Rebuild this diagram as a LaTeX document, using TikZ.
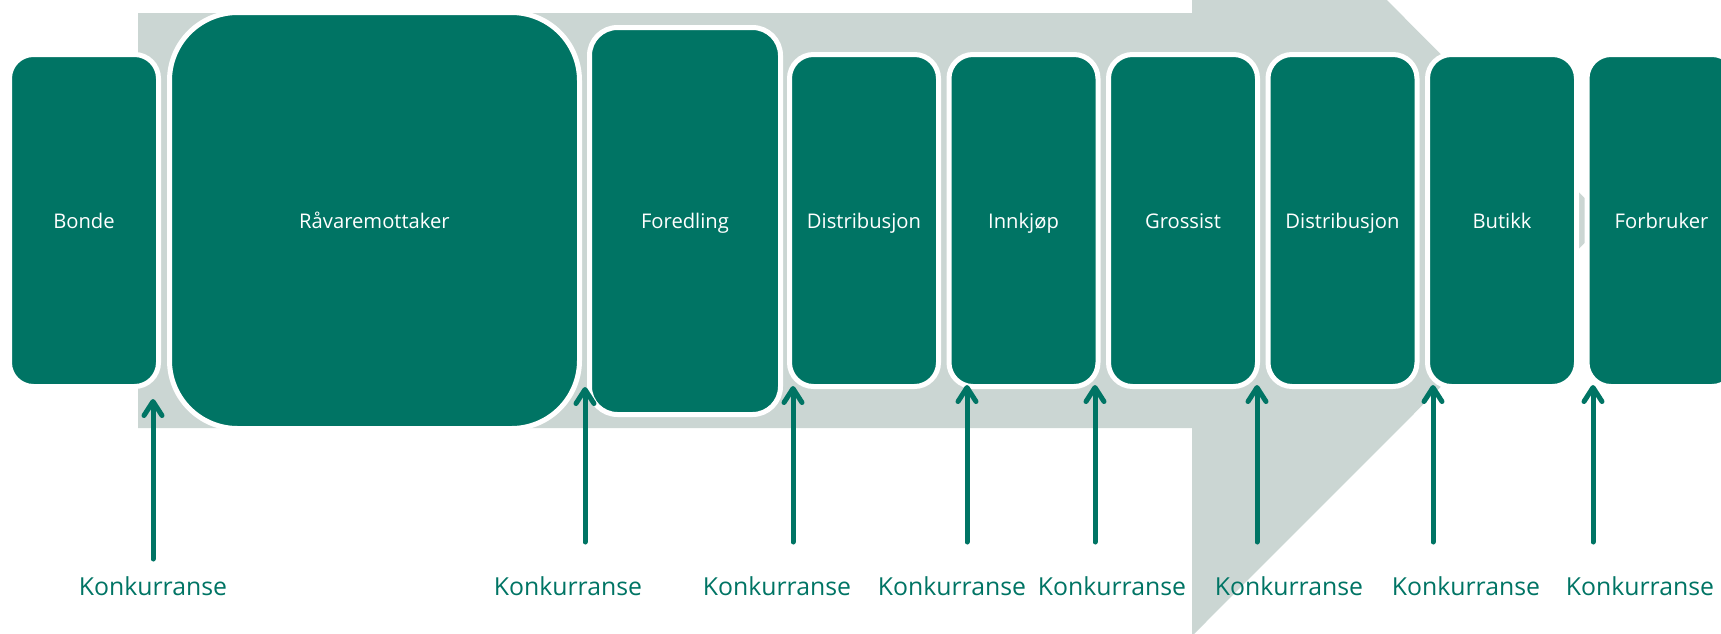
\documentclass[tikz,border=0pt]{standalone}
\usepackage{fontspec}
\setmainfont{Open Sans}
\usepackage{tikz}
\usetikzlibrary{
  positioning,
  arrows.meta
}
\definecolor{kjedegronn}{RGB}{0,116,100}
\definecolor{kjedegraa}{RGB}{203,214,211}

\tikzset{
  ledd/.style={draw=white, line width=2.5pt, fill=kjedegronn, text=white,
    rounded corners=12pt, minimum width=74.5pt, minimum height=166pt,
    inner sep=0pt, text height=9pt, text depth=1.5pt,
    font=\fontsize{10.1pt}{12pt}\selectfont},
  konk/.style={draw=kjedegronn, line width=2.5pt, line cap=round},
  konktekst/.style={text=kjedegronn, anchor=base, inner sep=0pt,
    font=\fontsize{12.4pt}{14pt}\selectfont}
}

\begin{document}
\begin{tikzpicture}[x=0.5pt,y=-0.5pt,node distance=2.75pt,
    >={Straight Barb[length=7pt,width=9pt,round]}]
            \useasboundingbox (0,0) rectangle (1721,633);

            % the big arrow behind
            \fill[kjedegraa] (138,13) -- (1192,13) -- (1192,-195) -- (1607,220.5)
                -- (1192,636) -- (1192,428) -- (138,428) -- cycle;

            \node[ledd] (bonde) at (84,220.5) {Bonde};
            \node[ledd, minimum width=205pt, minimum height=208pt, rounded corners=34pt]
                (raavare) at (374.5,220.5) {Råvaremottaker};
            \node[ledd, minimum width=95.5pt, minimum height=193.5pt, rounded corners=14pt]
                (foredling) at (685,221) {Foredling};
            \node[ledd] (distA) at (864,220.5) {Distribusjon};
            \node[ledd, right=of distA] (innkjop) {Innkjøp};
            \node[ledd, right=of innkjop] (grossist) {Grossist};
            \node[ledd, right=of grossist] (distB) {Distribusjon};
            \node[ledd, right=of distB] (butikk) {Butikk};
            \node[ledd, right=of butikk] (forbruker) {Forbruker};

            \coordinate (fra1) at (153,559); \coordinate (til1) at (153,399);
            \coordinate (fra2) at (585,542); \coordinate (til2) at (585,387);
            \coordinate (fra3) at (793,542); \coordinate (til3) at (793,386);
            \coordinate (fra4) at (967,542); \coordinate (til4) at (967,385);
            \coordinate (fra5) at (1095,542); \coordinate (til5) at (1095,385);
            \coordinate (fra6) at (1257,542); \coordinate (til6) at (1257,385);
            \coordinate (fra7) at (1433,542); \coordinate (til7) at (1433,385);
            \coordinate (fra8) at (1593,542); \coordinate (til8) at (1593,385);

            \draw[konk,->] (fra1) -- (til1);
            \draw[konk,->] (fra2) -- (til2);
            \draw[konk,->] (fra3) -- (til3);
            \draw[konk,->] (fra4) -- (til4);
            \draw[konk,->] (fra5) -- (til5);
            \draw[konk,->] (fra6) -- (til6);
            \draw[konk,->] (fra7) -- (til7);
            \draw[konk,->] (fra8) -- (til8);

            \node[konktekst] (konk1) at (153,595) {Konkurranse};
            \node[konktekst] (konk2) at (568,595) {Konkurranse};
            \node[konktekst] (konk3) at (777,595) {Konkurranse};
            \node[konktekst] (konk4) at (952,595) {Konkurranse};
            \node[konktekst] (konk5) at (1112,595) {Konkurranse};
            \node[konktekst] (konk6) at (1289,595) {Konkurranse};
            \node[konktekst] (konk7) at (1466,595) {Konkurranse};
            \node[konktekst] (konk8) at (1640,595) {Konkurranse};
        \end{tikzpicture}
\end{document}
